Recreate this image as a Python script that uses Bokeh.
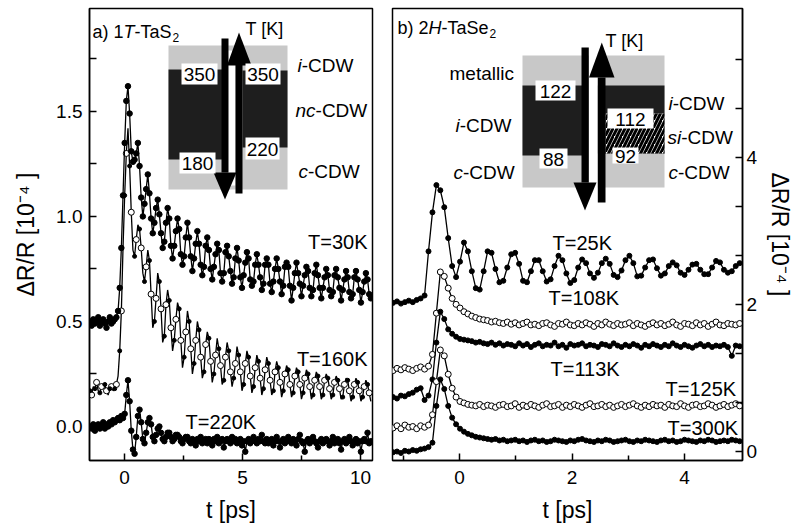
from bokeh.plotting import figure
from bokeh.layouts import row
from bokeh.models import FixedTicker, Label, NumeralTickFormatter
from bokeh.embed import file_html
from bokeh.resources import INLINE

# ---------------- data: panel a) 1T-TaS2 ----------------
t_a = [-1.46, -1.39, -1.32, -1.25, -1.18, -1.11, -1.04, -0.97, -0.90, -0.83,
       -0.76, -0.69, -0.62, -0.55, -0.48, -0.41, -0.34, -0.27, -0.20, -0.13,
       -0.06, 0.01, 0.08,
       0.15, 0.22, 0.29, 0.36, 0.43, 0.50,
       0.57, 0.64, 0.71, 0.78, 0.85, 0.92,
       0.99, 1.06, 1.13, 1.20, 1.27, 1.34,
       1.41, 1.48, 1.55, 1.62, 1.69, 1.76,
       1.83, 1.90, 1.97, 2.04, 2.11, 2.18,
       2.25, 2.32, 2.39, 2.46, 2.53, 2.60,
       2.67, 2.74, 2.81, 2.88, 2.95, 3.02,
       3.09, 3.16, 3.23, 3.30, 3.37, 3.44,
       3.51, 3.58, 3.65, 3.72, 3.79, 3.86,
       3.93, 4.00, 4.07, 4.14, 4.21, 4.28,
       4.35, 4.42, 4.49, 4.56, 4.63, 4.70,
       4.77, 4.84, 4.91, 4.98, 5.05, 5.12,
       5.19, 5.26, 5.33, 5.40, 5.47, 5.54,
       5.61, 5.68, 5.75, 5.82, 5.89, 5.96,
       6.03, 6.10, 6.17, 6.24, 6.31, 6.38,
       6.45, 6.52, 6.59, 6.66, 6.73, 6.80,
       6.87, 6.94, 7.01, 7.08, 7.15, 7.22,
       7.29, 7.36, 7.43, 7.50, 7.57, 7.64,
       7.71, 7.78, 7.85, 7.92, 7.99, 8.06,
       8.13, 8.20, 8.27, 8.34, 8.41, 8.48,
       8.55, 8.62, 8.69, 8.76, 8.83, 8.90,
       8.97, 9.04, 9.11, 9.18, 9.25, 9.32,
       9.39, 9.46, 9.53, 9.60, 9.67, 9.74,
       9.81, 9.88, 9.95, 10.02, 10.09, 10.16,
       10.23, 10.30, 10.37, 10.44]

dr_30K = [0.50, 0.48, 0.51, 0.49, 0.50, 0.52, 0.48, 0.50, 0.51, 0.49, 0.47, 0.50,
          0.52, 0.49, 0.50, 0.51, 0.52, 0.55, 0.66, 0.85, 1.10, 1.35, 1.55,
          1.62, 1.49, 1.31, 1.26, 1.27, 1.30,
          1.35, 1.24, 1.09, 1.00, 1.06, 1.13,
          1.20, 1.11, 0.99, 0.92, 0.97, 1.04,
          1.08, 1.01, 0.92, 0.85, 0.88, 0.97,
          1.04, 0.99, 0.86, 0.80, 0.86, 0.93,
          0.99, 0.94, 0.82, 0.77, 0.81, 0.90,
          0.97, 0.90, 0.81, 0.74, 0.80, 0.87,
          0.93, 0.87, 0.77, 0.72, 0.76, 0.86,
          0.90, 0.84, 0.75, 0.70, 0.76, 0.82,
          0.87, 0.84, 0.73, 0.69, 0.73, 0.83,
          0.86, 0.81, 0.74, 0.68, 0.71, 0.80,
          0.85, 0.79, 0.71, 0.66, 0.72, 0.78,
          0.83, 0.80, 0.70, 0.67, 0.69, 0.77,
          0.82, 0.77, 0.71, 0.65, 0.68, 0.77,
          0.80, 0.77, 0.68, 0.64, 0.69, 0.75,
          0.80, 0.75, 0.69, 0.63, 0.67, 0.76,
          0.78, 0.76, 0.67, 0.60, 0.66, 0.73,
          0.78, 0.73, 0.68, 0.62, 0.67, 0.72,
          0.76, 0.74, 0.66, 0.62, 0.65, 0.73,
          0.77, 0.72, 0.66, 0.61, 0.66, 0.71,
          0.75, 0.72, 0.65, 0.62, 0.64, 0.72,
          0.75, 0.71, 0.66, 0.60, 0.65, 0.70,
          0.74, 0.71, 0.64, 0.61, 0.63, 0.71,
          0.74, 0.70, 0.65, 0.59, 0.64, 0.69,
          0.73, 0.70, 0.63, 0.61]

dr_160K = [0.17, 0.15, 0.19, 0.18, 0.21, 0.17, 0.16, 0.19, 0.18, 0.20, 0.17, 0.15,
           0.18, 0.19, 0.17, 0.18, 0.20, 0.24, 0.36, 0.55, 0.85, 1.10, 1.30,
           1.42, 1.24, 1.02, 0.84, 0.81, 0.89,
           0.96, 0.94, 0.85, 0.73, 0.69, 0.76,
           0.84, 0.79, 0.63, 0.47, 0.50, 0.61,
           0.73, 0.69, 0.56, 0.40, 0.43, 0.58,
           0.65, 0.60, 0.47, 0.36, 0.41, 0.51,
           0.59, 0.56, 0.41, 0.28, 0.33, 0.45,
           0.55, 0.50, 0.37, 0.25, 0.30, 0.41,
           0.50, 0.46, 0.33, 0.23, 0.26, 0.39,
           0.45, 0.42, 0.31, 0.21, 0.25, 0.34,
           0.42, 0.37, 0.29, 0.20, 0.22, 0.33,
           0.40, 0.36, 0.26, 0.19, 0.23, 0.30,
           0.38, 0.34, 0.26, 0.17, 0.20, 0.30,
           0.36, 0.33, 0.24, 0.16, 0.19, 0.28,
           0.34, 0.31, 0.23, 0.15, 0.18, 0.27,
           0.33, 0.30, 0.22, 0.15, 0.17, 0.26,
           0.31, 0.28, 0.21, 0.14, 0.17, 0.25,
           0.29, 0.27, 0.20, 0.14, 0.16, 0.24,
           0.28, 0.26, 0.20, 0.13, 0.16, 0.23,
           0.27, 0.25, 0.19, 0.13, 0.15, 0.22,
           0.26, 0.24, 0.19, 0.13, 0.15, 0.22,
           0.25, 0.23, 0.18, 0.13, 0.15, 0.21,
           0.24, 0.22, 0.18, 0.13, 0.14, 0.20,
           0.23, 0.22, 0.17, 0.12, 0.14, 0.20,
           0.23, 0.21, 0.17, 0.12, 0.14, 0.19,
           0.22, 0.20, 0.16, 0.12]

dr_220K = [0.00, -0.01, 0.01, -0.02, 0.00, 0.01, -0.01, 0.00, 0.02, -0.01, 0.01, 0.00,
           0.02, 0.01, 0.03, 0.02, 0.03, 0.04, 0.03, 0.05, 0.04, 0.06, 0.15,
           0.22, 0.12, -0.02, -0.11, -0.13, -0.05,
           0.05, 0.08, 0.02, -0.06, -0.08, -0.03,
           0.02, 0.04, 0.01, -0.05, -0.07, -0.04,
           -0.01, 0.00, -0.03, -0.06, -0.07, -0.05,
           -0.03, -0.03, -0.05, -0.07, -0.06, -0.04,
           -0.04, -0.05, -0.07, -0.08, -0.06, -0.05,
           -0.05, -0.07, -0.08, -0.06, -0.07, -0.09,
           -0.06, -0.07, -0.05, -0.08, -0.07, -0.06,
           -0.08, -0.06, -0.07, -0.09, -0.06, -0.07,
           -0.05, -0.08, -0.07, -0.06, -0.10, -0.07,
           -0.06, -0.07, -0.08, -0.05, -0.07, -0.06,
           -0.08, -0.07, -0.06, -0.09, -0.07, -0.12,
           -0.07, -0.06, -0.08, -0.07, -0.05, -0.07,
           -0.08, -0.06, -0.07, -0.04, -0.07, -0.08,
           -0.06, -0.08, -0.07, -0.06, -0.09, -0.07,
           -0.05, -0.07, -0.10, -0.07, -0.06, -0.08,
           -0.07, -0.05, -0.07, -0.08, -0.06, -0.07,
           -0.09, -0.06, -0.04, -0.07, -0.08, -0.12,
           -0.07, -0.06, -0.08, -0.07, -0.05, -0.07,
           -0.08, -0.10, -0.07, -0.06, -0.08, -0.07,
           -0.06, -0.07, -0.09, -0.07, -0.05, -0.08,
           -0.07, -0.06, -0.08, -0.11, -0.07, -0.06,
           -0.08, -0.07, -0.05, -0.07, -0.09, -0.07,
           -0.06, -0.08, -0.07, -0.12, -0.07, -0.06,
           -0.07, -0.03, -0.08, -0.07]

# ---------------- data: panel b) 2H-TaSe2 ----------------
t_b = [-1.18, -1.11, -1.04, -0.97, -0.90, -0.83, -0.76, -0.69, -0.62, -0.55,
       -0.48, -0.41, -0.34, -0.27, -0.20, -0.13, -0.06, 0.01,
       0.08, 0.15, 0.22, 0.29, 0.36, 0.43, 0.50, 0.57, 0.64, 0.71,
       0.78, 0.85, 0.92, 0.99, 1.06, 1.13, 1.20, 1.27, 1.34, 1.41,
       1.48, 1.55, 1.62, 1.69, 1.76, 1.83, 1.90, 1.97, 2.04, 2.11,
       2.18, 2.25, 2.32, 2.39, 2.46, 2.53, 2.60, 2.67, 2.74, 2.81,
       2.88, 2.95, 3.02, 3.09, 3.16, 3.23, 3.30, 3.37, 3.44, 3.51,
       3.58, 3.65, 3.72, 3.79, 3.86, 3.93, 4.00, 4.07, 4.14, 4.21,
       4.28, 4.35, 4.42, 4.49, 4.56, 4.63, 4.70, 4.77, 4.84, 4.91,
       4.98]

dr_25K = [2.02, 2.04, 2.01, 2.03, 2.05, 2.03, 2.06, 2.08, 2.12, 2.72,
          3.25, 3.62, 3.55, 3.32, 2.90, 2.52, 2.37, 2.58,
          2.84, 2.72, 2.45, 2.22, 2.20, 2.45, 2.72, 2.70, 2.48, 2.30,
          2.32, 2.50, 2.68, 2.70, 2.55, 2.32, 2.30, 2.45, 2.60, 2.60,
          2.45, 2.31, 2.34, 2.52, 2.66, 2.60, 2.42, 2.29, 2.33, 2.50,
          2.61, 2.56, 2.42, 2.36, 2.43, 2.56, 2.62, 2.55, 2.40, 2.37,
          2.46, 2.60, 2.66, 2.56, 2.38, 2.39, 2.50, 2.60, 2.61, 2.49,
          2.39, 2.42, 2.52, 2.57, 2.53, 2.43, 2.40, 2.47, 2.54, 2.55,
          2.47, 2.41, 2.41, 2.50, 2.59, 2.57, 2.47, 2.43, 2.45, 2.52,
          2.56]

dr_108K = [1.10, 1.13, 1.11, 1.14, 1.12, 1.10, 1.13, 1.15, 1.12, 1.16,
           1.32, 1.88, 2.44, 2.38, 2.22, 2.08, 2.00, 1.95,
           1.90, 1.87, 1.84, 1.82, 1.80, 1.79, 1.78, 1.76, 1.77, 1.75,
           1.74, 1.76, 1.73, 1.75, 1.72, 1.74, 1.76, 1.72, 1.73, 1.71,
           1.74, 1.75, 1.72, 1.70, 1.74, 1.73, 1.76, 1.72, 1.71, 1.74,
           1.72, 1.75, 1.73, 1.70, 1.74, 1.72, 1.76, 1.73, 1.71, 1.74,
           1.72, 1.73, 1.75, 1.71, 1.74, 1.72, 1.70, 1.73, 1.75, 1.72,
           1.74, 1.71, 1.73, 1.76, 1.72, 1.70, 1.74, 1.73, 1.71, 1.75,
           1.72, 1.74, 1.70, 1.73, 1.76, 1.72, 1.71, 1.74, 1.73, 1.72,
           1.74]

dr_113K = [0.74, 0.72, 0.76, 0.75, 0.78, 0.80, 0.84, 0.86, 0.70, 0.76,
           0.98, 1.48, 1.90, 1.80, 1.66, 1.60, 1.56, 1.53,
           1.52, 1.51, 1.50, 1.48, 1.49, 1.47, 1.46, 1.48, 1.45, 1.47,
           1.44, 1.46, 1.45, 1.43, 1.47, 1.44, 1.46, 1.42, 1.45, 1.47,
           1.43, 1.45, 1.44, 1.48, 1.43, 1.45, 1.41, 1.46, 1.44, 1.45,
           1.47, 1.43, 1.45, 1.44, 1.42, 1.46, 1.45, 1.43, 1.47, 1.44,
           1.42, 1.45, 1.43, 1.46, 1.44, 1.41, 1.45, 1.43, 1.46, 1.44,
           1.42, 1.45, 1.43, 1.47, 1.44, 1.42, 1.45, 1.43, 1.41, 1.44,
           1.46, 1.43, 1.45, 1.42, 1.44, 1.43, 1.45, 1.42, 1.30, 1.44,
           1.43]

dr_125K = [0.32, 0.35, 0.31, 0.36, 0.33, 0.34, 0.31, 0.35, 0.33, 0.36,
           0.50, 0.95, 1.38, 1.30, 1.05, 0.86, 0.74, 0.68,
           0.66, 0.64, 0.63, 0.62, 0.64, 0.61, 0.63, 0.62, 0.60, 0.63,
           0.64, 0.61, 0.62, 0.65, 0.60, 0.63, 0.61, 0.64, 0.62, 0.60,
           0.63, 0.65, 0.61, 0.62, 0.64, 0.60, 0.63, 0.61, 0.64, 0.62,
           0.60, 0.63, 0.65, 0.61, 0.62, 0.64, 0.61, 0.63, 0.60, 0.62,
           0.64, 0.61, 0.63, 0.65, 0.62, 0.60, 0.63, 0.61, 0.64, 0.62,
           0.63, 0.60, 0.64, 0.62, 0.61, 0.65, 0.62, 0.60, 0.63, 0.64,
           0.61, 0.62, 0.65, 0.63, 0.60, 0.62, 0.64, 0.61, 0.63, 0.65,
           0.62]

dr_300K = [-0.01, 0.00, -0.02, 0.01, 0.00, 0.02, 0.01, 0.03, 0.04, 0.06,
           0.12, 0.62, 0.98, 0.85, 0.62, 0.46, 0.37, 0.31,
           0.27, 0.24, 0.22, 0.20, 0.19, 0.18, 0.17, 0.16, 0.17, 0.15,
           0.16, 0.14, 0.15, 0.16, 0.14, 0.15, 0.13, 0.15, 0.16, 0.14,
           0.15, 0.13, 0.14, 0.16, 0.15, 0.14, 0.13, 0.15, 0.14, 0.16,
           0.17, 0.15, 0.14, 0.13, 0.15, 0.14, 0.16, 0.15, 0.13, 0.14,
           0.15, 0.16, 0.14, 0.13, 0.15, 0.14, 0.16, 0.15, 0.14, 0.13,
           0.15, 0.16, 0.14, 0.15, 0.13, 0.14, 0.16, 0.15, 0.14, 0.13,
           0.15, 0.14, 0.16, 0.15, 0.13, 0.14, 0.15, 0.14, 0.16, 0.15,
           0.14]

x_ticks_a = [0, 5, 10]
y_ticks_a = [0.0, 0.5, 1.0, 1.5]
x_ticks_b = [0, 2, 4]
y_ticks_b = [0, 2, 4]

# ---------------- styling / layout ----------------
FONT = "Liberation Sans"
GRAY = "#c8c8c8"
DARK = "#1e1e1e"

XA = (-1.48, 10.51)
YA = (-0.162, 1.99)
XB = (-1.19, 5.03)
YB = (-0.122, 6.02)

CW = {' ': 278, ')': 333, '(': 333, '-': 333, '=': 584, '[': 278, ']': 278,
      'T': 611, 'S': 667, 'H': 722, 'K': 667, 'C': 722, 'D': 722, 'W': 944,
      'a': 556, 'b': 556, 'c': 500, 'e': 556, 'i': 222, 'l': 222, 'm': 833,
      'n': 556, 's': 500, 't': 278, 'p': 556}


def tw(s, size):
    return sum(CW.get(ch, 556) for ch in s) / 1000.0 * size


class Frame:
    def __init__(self, px0, px1, py0, py1, xr, yr):
        self.px0, self.px1, self.py0, self.py1 = px0, px1, py0, py1
        self.xr, self.yr = xr, yr

    def x(self, px):
        return self.xr[0] + (px - self.px0) / (self.px1 - self.px0) * (self.xr[1] - self.xr[0])

    def y(self, py):
        return self.yr[1] - (py - self.py0) / (self.py1 - self.py0) * (self.yr[1] - self.yr[0])


FA = Frame(89, 372, 8, 460, XA, YA)
FB = Frame(392, 742, 8, 460, XB, YB)


def box(p, F, x0, x1, y0, y1, color, **kw):
    p.quad(left=F.x(x0), right=F.x(x1), top=F.y(y0), bottom=F.y(y1),
           fill_color=color, line_color=None, **kw)


def tri(p, F, pts, color="black"):
    p.patch([F.x(a) for a, b in pts], [F.y(b) for a, b in pts],
            fill_color=color, line_color=None)


def rich(p, F, x, y, pieces, align="left"):
    total = sum(tw(s, sz) + dx for s, st, sz, dy, dx in pieces)
    cur = x if align == "left" else x - total
    for s, st, sz, dy, dx in pieces:
        cur += dx
        p.add_layout(Label(x=F.x(cur), y=F.y(y + dy), text=s, text_font=FONT,
                           text_font_size=f"{sz}px", text_font_style=st,
                           text_color="black", text_align="left",
                           text_baseline="middle"))
        cur += tw(s, sz)


def numbox(p, F, x0, x1, y0, y1, s, size=19):
    box(p, F, x0, x1, y0, y1, "white")
    p.add_layout(Label(x=F.x((x0 + x1) / 2), y=F.y((y0 + y1) / 2 + 0.5), text=s,
                       text_font=FONT, text_font_size=f"{size}px",
                       text_color="black", text_align="center",
                       text_baseline="middle"))


def style_axes(p):
    p.xgrid.visible = False
    p.ygrid.visible = False
    p.outline_line_color = "black"
    p.outline_line_width = 1.5
    for ax in (p.xaxis[0], p.yaxis[0]):
        ax.axis_line_width = 1.5
        ax.major_tick_line_width = 1.5
        ax.minor_tick_line_width = 1.5
        ax.major_tick_in = 7
        ax.major_tick_out = 0
        ax.minor_tick_in = 5
        ax.minor_tick_out = 0
        ax.major_label_text_font = FONT
        ax.major_label_text_font_size = "19px"
        ax.major_label_text_color = "black"
        ax.axis_label_text_font = FONT
        ax.axis_label_text_font_size = "23px"
        ax.axis_label_text_font_style = "normal"
        ax.axis_label_text_color = "black"


def clip(t, y):
    n = min(len(t), len(y))
    return t[:n], y[:n]


# ---------------- panel a ----------------
pa = figure(width=382, height=528, x_range=XA, y_range=YA, title=None,
            output_backend="svg", toolbar_location=None,
            min_border_left=89, min_border_right=10, min_border_top=8,
            min_border_bottom=68, background_fill_color="white",
            border_fill_color="white")
style_axes(pa)
pa.xaxis.ticker = FixedTicker(ticks=x_ticks_a, minor_ticks=[-2.5, 2.5, 7.5])
pa.yaxis.ticker = FixedTicker(ticks=y_ticks_a, minor_ticks=[0.25, 0.75, 1.25, 1.75])
pa.yaxis.formatter = NumeralTickFormatter(format="0.0")
pa.yaxis.minor_tick_in = 7
pa.xaxis.axis_label = "t [ps]"
pa.yaxis.axis_label = "\u0394R/R [10\u207b\u2074 ]"
pa.xaxis.major_label_standoff = 10
pa.xaxis.axis_label_standoff = 10
pa.yaxis.major_label_standoff = 7
pa.yaxis.axis_label_standoff = 14

# inset a
box(pa, FA, 168, 287, 45, 189, GRAY)
box(pa, FA, 168, 222, 69, 159, DARK)
box(pa, FA, 242, 287, 70, 147, DARK)
box(pa, FA, 227.5, 235, 50, 185, "white")
box(pa, FA, 221, 228, 38, 172, "black")
tri(pa, FA, [(213, 172), (236, 172), (224.5, 199)])
box(pa, FA, 235, 242, 62, 193, "black")
tri(pa, FA, [(226.5, 65), (251, 65), (238.5, 32)])
numbox(pa, FA, 181, 217, 63, 84, "350")
numbox(pa, FA, 245, 280, 63, 84, "350")
numbox(pa, FA, 179, 215, 152, 173, "180")
numbox(pa, FA, 245, 279, 137, 159, "220")

# curves a (160 K: open circles on a dotted fit line)
tt, yy = clip(t_a, dr_160K)
pa.line(tt, yy, line_color="black", line_width=1.3)
pa.scatter(tt[1::3], yy[1::3], size=6, marker="circle", fill_color="white",
           line_color="black", line_width=1)
pa.scatter(tt[::3], yy[::3], size=4, marker="circle", fill_color="black",
           line_color="black")
for ys in (dr_30K, dr_220K):
    tt, yy = clip(t_a, ys)
    pa.line(tt, yy, line_color="black", line_width=1.3)
    pa.scatter(tt, yy, size=5.5, marker="circle", fill_color="black", line_color="black")

rich(pa, FA, 92, 31, [("a) 1", "normal", 18, 0, 0), ("T", "italic", 18, 0, 0),
                      ("-TaS", "normal", 18, 0, 0), ("2", "normal", 12, 6, -1)])
rich(pa, FA, 245, 28, [("T [K]", "normal", 18, 0, 0)])
rich(pa, FA, 297, 65, [("i", "italic", 19, 0, 0), (" -CDW", "normal", 19, 0, 0)])
rich(pa, FA, 295, 110, [("nc", "italic", 19, 0, 0), ("-CDW", "normal", 19, 0, 0)])
rich(pa, FA, 298, 171, [("c", "italic", 19, 0, 0), ("-CDW", "normal", 19, 0, 0)])
rich(pa, FA, 367, 241, [("T=30K", "normal", 20, 0, 0)], align="right")
rich(pa, FA, 367, 358, [("T=160K", "normal", 20, 0, 0)], align="right")
rich(pa, FA, 185, 421, [("T=220K", "normal", 20, 0, 0)])

# ---------------- panel b ----------------
pb = figure(width=418, height=528, x_range=XB, y_range=YB, title=None,
            output_backend="svg", toolbar_location=None, y_axis_location="right",
            min_border_left=10, min_border_right=58, min_border_top=8,
            min_border_bottom=68, background_fill_color="white",
            border_fill_color="white")
style_axes(pb)
pb.xaxis.ticker = FixedTicker(ticks=x_ticks_b, minor_ticks=[-1, 1, 3])
pb.yaxis.ticker = FixedTicker(ticks=y_ticks_b,
                              minor_ticks=[2 / 3, 4 / 3, 8 / 3, 10 / 3, 14 / 3, 16 / 3])
pb.yaxis.minor_tick_in = 7
pb.xaxis.axis_label = "t [ps]"
pb.yaxis.axis_label = "\u0394R/R [10\u207b\u2074 ]"
pb.xaxis.major_label_standoff = 10
pb.xaxis.axis_label_standoff = 10
pb.yaxis.major_label_standoff = 4
pb.yaxis.axis_label_standoff = 7

# inset b
box(pb, FB, 522, 664, 55, 187, GRAY)
box(pb, FB, 522, 583, 85, 155, DARK)
box(pb, FB, 597, 664, 85, 153, DARK)
box(pb, FB, 605, 664, 113, 153, "white", hatch_pattern="/", hatch_color="black",
    hatch_weight=3, hatch_scale=8)
box(pb, FB, 588.3, 597.3, 50, 195, "white")
box(pb, FB, 581, 588.3, 47, 182, "black")
tri(pb, FB, [(573, 182), (596, 182), (584.5, 210)])
box(pb, FB, 597.3, 605, 77, 202, "black")
tri(pb, FB, [(588.5, 77), (614, 77), (601.3, 42)])
numbox(pb, FB, 535, 575, 80, 100, "122")
numbox(pb, FB, 539, 567, 148, 168, "88")
numbox(pb, FB, 607, 653, 108, 128, "112")
numbox(pb, FB, 612, 638, 147, 163, "92")

for ys, kind in ((dr_25K, "filled"), (dr_108K, "open"), (dr_113K, "filled"),
                 (dr_125K, "open"), (dr_300K, "filled")):
    tt, yy = clip(t_b, ys)
    pb.line(tt, yy, line_color="black", line_width=1.3)
    if kind == "filled":
        pb.scatter(tt, yy, size=5, marker="circle", fill_color="black", line_color="black")
    else:
        pb.scatter(tt, yy, size=6, marker="circle", fill_color="white",
                   line_color="black", line_width=1)

rich(pb, FB, 397, 27, [("b) 2", "normal", 18, 0, 0), ("H", "italic", 18, 0, 0),
                       ("-TaSe", "normal", 18, 0, 0), ("2", "normal", 12, 6, -1)])
rich(pb, FB, 605, 40, [("T [K]", "normal", 18, 0, 0)])
rich(pb, FB, 449, 73, [("metallic", "normal", 19, 0, 0)])
rich(pb, FB, 455, 125, [("i", "italic", 19, 0, 0), ("-CDW", "normal", 19, 0, 0)])
rich(pb, FB, 453, 172, [("c", "italic", 19, 0, 0), ("-CDW", "normal", 19, 0, 0)])
rich(pb, FB, 668, 103, [("i", "italic", 19, 0, 0), ("-CDW", "normal", 19, 0, 0)])
rich(pb, FB, 667, 137, [("si", "italic", 19, 0, 0), ("-CDW", "normal", 19, 0, 0)])
rich(pb, FB, 668, 172, [("c", "italic", 19, 0, 0), ("-CDW", "normal", 19, 0, 0)])
rich(pb, FB, 552, 242, [("T=25K", "normal", 20, 0, 0)])
rich(pb, FB, 548, 297, [("T=108K", "normal", 20, 0, 0)])
rich(pb, FB, 550, 368, [("T=113K", "normal", 20, 0, 0)])
rich(pb, FB, 665, 388, [("T=125K", "normal", 20, 0, 0)])
rich(pb, FB, 667, 427, [("T=300K", "normal", 20, 0, 0)])

layout = row(pa, pb)
open("out.html", "w").write(file_html(layout, INLINE))
